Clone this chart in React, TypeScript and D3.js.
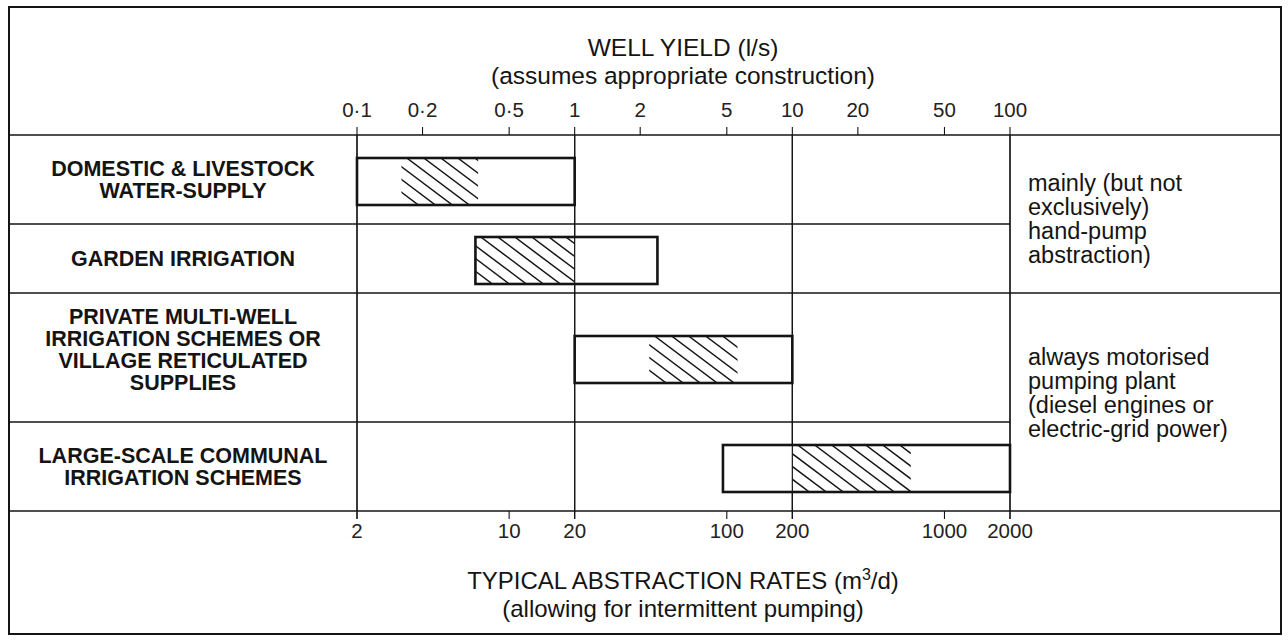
import React from "react";
import * as d3 from "d3";

const W = 1288;
const H = 641;

// ---- data ----
const categories: string[][] = [
  ["DOMESTIC & LIVESTOCK", "WATER-SUPPLY"],
  ["GARDEN IRRIGATION"],
  ["PRIVATE MULTI-WELL", "IRRIGATION SCHEMES OR", "VILLAGE RETICULATED", "SUPPLIES"],
  ["LARGE-SCALE COMMUNAL", "IRRIGATION SCHEMES"],
];
// well yield ranges (l/s)
const rangeMin = [0.1, 0.35, 1, 4.8];
const rangeMax = [1, 2.4, 10, 100];
// typical (hatched) ranges (l/s)
const hatchMin = [0.16, 0.35, 2.2, 10];
const hatchMax = [0.36, 1, 5.6, 35];

const yieldTicks = [0.1, 0.2, 0.5, 1, 2, 5, 10, 20, 50, 100];
const yieldTickLabels = ["0·1", "0·2", "0·5", "1", "2", "5", "10", "20", "50", "100"];
const majorYield = [0.1, 1, 10, 100];
const rateTicks = [2, 10, 20, 100, 200, 1000, 2000];

const noteGroups = [
  { rows: [0, 1], lines: ["mainly (but not", "exclusively)", "hand-pump", "abstraction)"] },
  { rows: [2, 3], lines: ["always motorised", "pumping plant", "(diesel engines or", "electric-grid power)"] },
];

const topTitle = "WELL YIELD (l/s)";
const topSub = "(assumes appropriate construction)";
const bottomSub = "(allowing for intermittent pumping)";

// ---- layout ----
const frame = { left: 9, top: 7, right: 1281, bottom: 634 };
const plotLeft = 357;
const plotRight = 1010;
const axisTop = 135;
const rowBase = 49;
const rowPerLine = 20;
const barH = 47;
const noteOffsets = [13, -1];
const FONT = "'Liberation Sans', Arial, Helvetica, sans-serif";
const INK = "#141414";

export default function App() {
  const x = d3.scaleLog().domain([0.1, 100]).range([plotLeft, plotRight]);
  const xr = d3.scaleLog().domain([2, 2000]).range([plotLeft, plotRight]);

  const heights = categories.map((c) => rowBase + rowPerLine * c.length);
  const rowTops: number[] = [];
  let acc = axisTop;
  heights.forEach((h) => {
    rowTops.push(acc);
    acc += h;
  });
  const axisBottom = acc;
  const rowMid = (i: number) => rowTops[i] + heights[i] / 2;
  const barTop = (i: number) => rowMid(i) - barH / 2 + 2;
  const midX = 683;

  const hatchLines = (i: number) => {
    const top = barTop(i);
    const bot = top + barH;
    const x0 = x(hatchMin[i]);
    const x1 = x(hatchMax[i]);
    const run = barH / 0.75;
    const out: { x1: number; y1: number; x2: number; y2: number }[] = [];
    for (let s = x0 - run; s < x1 + 1; s += 17) {
      out.push({ x1: s, y1: top, x2: s + run, y2: bot });
    }
    return out;
  };

  return (
    <svg
      width={W}
      height={H}
      style={{ position: "absolute", left: 0, top: 0, background: "#fff" }}
      fontFamily={FONT}
    >
      <defs>
        {categories.map((_, i) => (
          <clipPath id={`hclip${i}`} key={i}>
            <rect x={x(hatchMin[i])} y={barTop(i)} width={x(hatchMax[i]) - x(hatchMin[i])} height={barH} />
          </clipPath>
        ))}
      </defs>
      <rect x={0} y={0} width={W} height={H} fill="#fff" />
      {/* frame */}
      <rect
        x={frame.left}
        y={frame.top}
        width={frame.right - frame.left}
        height={frame.bottom - frame.top}
        fill="none"
        stroke={INK}
        strokeWidth={2}
      />

      {/* titles */}
      <text x={midX} y={56} textAnchor="middle" fontSize={24.5} fill={INK}>
        {topTitle}
      </text>
      <text x={midX} y={84} textAnchor="middle" fontSize={24.5} fill={INK}>
        {topSub}
      </text>

      {/* top axis line */}
      <line x1={frame.left} x2={frame.right} y1={axisTop} y2={axisTop} stroke={INK} strokeWidth={1.3} />
      {yieldTicks.map((t, i) => (
        <g key={t}>
          <line x1={x(t)} x2={x(t)} y1={axisTop} y2={axisTop - 8} stroke={INK} strokeWidth={1.1} />
          <text x={x(t)} y={117} textAnchor="middle" fontSize={20.5} fill="#222">
            {yieldTickLabels[i]}
          </text>
        </g>
      ))}

      {/* row separators */}
      {categories.map((_, i) => {
        if (i === 0) return null;
        const full = noteGroups.some((g) => g.rows[0] === i);
        return (
          <line
            key={i}
            x1={frame.left}
            x2={full ? frame.right : x(100)}
            y1={rowTops[i]}
            y2={rowTops[i]}
            stroke={INK}
            strokeWidth={1.3}
          />
        );
      })}
      <line x1={frame.left} x2={frame.right} y1={axisBottom} y2={axisBottom} stroke={INK} strokeWidth={1.3} />

      {/* major verticals (extend as ticks below bottom axis) */}
      {majorYield.map((t) => (
        <line key={t} x1={x(t)} x2={x(t)} y1={axisTop} y2={axisBottom + 8} stroke={INK} strokeWidth={1.2} />
      ))}

      {/* bottom ticks */}
      {rateTicks.map((t) => (
        <g key={t}>
          <line x1={xr(t)} x2={xr(t)} y1={axisBottom} y2={axisBottom + 8} stroke={INK} strokeWidth={1.1} />
          <text x={xr(t)} y={538} textAnchor="middle" fontSize={20.5} fill="#222">
            {t}
          </text>
        </g>
      ))}
      <text x={midX} y={589} textAnchor="middle" fontSize={24} fill={INK}>
        TYPICAL ABSTRACTION RATES (m
        <tspan fontSize={16} dy={-9}>3</tspan>
        <tspan dy={9}>/d)</tspan>
      </text>
      <text x={midX} y={617} textAnchor="middle" fontSize={24} fill={INK}>
        {bottomSub}
      </text>

      {/* row labels */}
      {categories.map((lines, i) => {
        const lh = 22;
        const y0 = rowMid(i) - ((lines.length - 1) * lh) / 2 + 7 - (lines.length > 2 ? 8 : 0);
        return (
          <text key={i} textAnchor="middle" fontSize={21.5} fontWeight="bold" fill={INK}>
            {lines.map((l, j) => (
              <tspan key={j} x={(frame.left + plotLeft) / 2} y={y0 + j * lh}>
                {l}
              </tspan>
            ))}
          </text>
        );
      })}

      {/* bars */}
      {categories.map((_, i) => {
        const top = barTop(i);
        return (
          <g key={i}>
            <rect
              x={x(rangeMin[i])}
              y={top}
              width={x(rangeMax[i]) - x(rangeMin[i])}
              height={barH}
              fill="#fff"
            />
            <g clipPath={`url(#hclip${i})`}>
              {hatchLines(i).map((l, k) => (
                <line key={k} {...l} stroke={INK} strokeWidth={1.5} />
              ))}
            </g>
          </g>
        );
      })}
      {/* major verticals pass through the bars */}
      {majorYield.map((t) => (
        <line key={`v${t}`} x1={x(t)} x2={x(t)} y1={axisTop} y2={axisBottom} stroke={INK} strokeWidth={1.2} />
      ))}
      {categories.map((_, i) => (
        <rect
          key={`o${i}`}
          x={x(rangeMin[i])}
          y={barTop(i)}
          width={x(rangeMax[i]) - x(rangeMin[i])}
          height={barH}
          fill="none"
          stroke={INK}
          strokeWidth={2.6}
        />
      ))}

      {/* notes */}
      {noteGroups.map((g, gi) => {
        const top = rowTops[g.rows[0]];
        const bot = g.rows[1] + 1 < rowTops.length ? rowTops[g.rows[1] + 1] : axisBottom;
        const lh = 24;
        const y0 = (top + bot) / 2 - ((g.lines.length - 1) * lh) / 2 + noteOffsets[gi];
        return (
          <text key={gi} fontSize={23.5} fill={INK}>
            {g.lines.map((l, j) => (
              <tspan key={j} x={x(100) + 18} y={y0 + j * lh}>
                {l}
              </tspan>
            ))}
          </text>
        );
      })}
    </svg>
  );
}
